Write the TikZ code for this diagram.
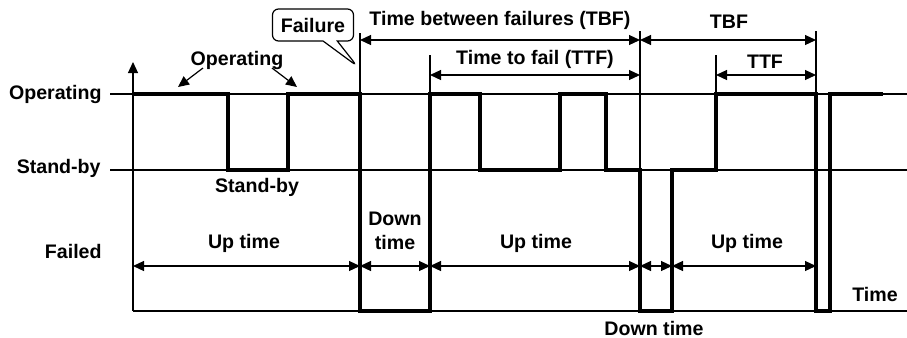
\documentclass[tikz,border=0pt]{standalone}
\usepackage{fontspec}
\setmainfont{Liberation Sans}
\usetikzlibrary{arrows.meta, shapes.callouts}
\tikzset{
    lbl/.style={font=\fontsize{9.8}{11}\selectfont\bfseries, inner sep=0pt},
    ylbl/.style={lbl, anchor=east},
    guide/.style={-, line width=0.6pt},
    trace/.style={-, line width=1.8pt, line join=miter},
    dim/.style={{Triangle[length=5.5pt, width=5pt]}-{Triangle[length=5.5pt, width=5pt]}, line width=0.6pt},
    pointer/.style={-{Triangle[length=5.5pt, width=5pt]}, line width=0.6pt},
    callbox/.style={lbl, draw, line width=0.6pt, rectangle callout, rounded corners=3pt,
                    minimum width=40.5pt, minimum height=16pt, fill=white},
}
\begin{document}
\begin{tikzpicture}[x=0.5pt, y=-0.5pt]
    \useasboundingbox (0,0) rectangle (907,338);

    % state levels
    \node[ylbl] (lop) at (102,94) {Operating};
    \node[ylbl] (lsb) at (101,168) {Stand-by};
    \node[ylbl] (lfl) at (102,251) {Failed};
    \coordinate (op0) at (110,94);  \coordinate (op1) at (907,94);
    \coordinate (sb0) at (110,170); \coordinate (sb1) at (907,170);
    \coordinate (fl0) at (133,311); \coordinate (fl1) at (907,311);
    \coordinate (ytop) at (133,62);
    \draw[guide] (op0) -- (op1);
    \draw[guide] (sb0) -- (sb1);
    \draw[guide] (fl0) -- (fl1);
    \draw[pointer] (fl0) -- (ytop);

    % extension lines for the dimensions
    \draw[guide] (360,33) -- (360,94);
    \draw[guide] (430,55) -- (430,94);
    \draw[guide] (640,31) -- (640,170);
    \draw[guide] (716,55) -- (716,94);
    \draw[guide] (816,31) -- (816,94);

    % system state over time
    \draw[trace] (133,94) -- (228,94) -- (228,170) -- (288,170) -- (288,94)
        -- (360,94) -- (360,311) -- (430,311) -- (430,94) -- (480,94)
        -- (480,170) -- (560,170) -- (560,94) -- (606,94) -- (606,170)
        -- (640,170) -- (640,311) -- (672,311) -- (672,170) -- (716,170)
        -- (716,94) -- (816,94) -- (816,311) -- (830,311) -- (830,94) -- (883,94);

    % operating / stand-by notes
    \node[lbl] (nop) at (237,60) {Operating};
    \coordinate (op_a) at (178,87);
    \coordinate (op_b) at (297,87);
    \draw[pointer] (203,68) -- (op_a);
    \draw[pointer] (272,68) -- (op_b);
    \node[lbl] (nsb) at (257,187) {Stand-by};

    % failure callout
    \coordinate (fail) at (357,66);
    \node[callbox, callout absolute pointer={(fail)}] (cfail) at (313,25) {Failure};

    % TBF and TTF
    \coordinate (tbf0) at (360,40); \coordinate (tbf1) at (640,40); \coordinate (tbf2) at (816,40);
    \coordinate (ttf0) at (430,75); \coordinate (ttf1) at (640,75);
    \coordinate (ttf2) at (716,75); \coordinate (ttf3) at (816,75);
    \draw[dim] (tbf0) -- (tbf1);
    \draw[dim] (tbf1) -- (tbf2);
    \draw[dim] (ttf0) -- (ttf1);
    \draw[dim] (ttf2) -- (ttf3);
    \node[lbl] (ntbf) at (500,20) {Time between failures (TBF)};
    \node[lbl] (ntbfb) at (729,22) {TBF};
    \node[lbl] (nttf) at (535,59) {Time to fail (TTF)};
    \node[lbl] (nttfb) at (765,62) {TTF};

    % up and down times
    \coordinate (u0) at (133,266); \coordinate (u1) at (360,266);
    \coordinate (u2) at (430,266); \coordinate (u3) at (640,266);
    \coordinate (u4) at (672,266); \coordinate (u5) at (816,266);
    \draw[dim] (u0) -- (u1);
    \draw[dim] (u1) -- (u2);
    \draw[dim] (u2) -- (u3);
    \draw[dim] (u3) -- (u4);
    \draw[dim] (u4) -- (u5);
    \node[lbl] (nup1) at (244,243) {Up time};
    \node[lbl, align=center] (ndn1) at (395,231) {Down\\[1pt]time};
    \node[lbl] (nup2) at (536,243) {Up time};
    \node[lbl] (ndn2) at (654,328) {Down time};
    \node[lbl] (nup3) at (747,243) {Up time};
    \node[lbl] (ntime) at (875,294) {Time};
\end{tikzpicture}
\end{document}
